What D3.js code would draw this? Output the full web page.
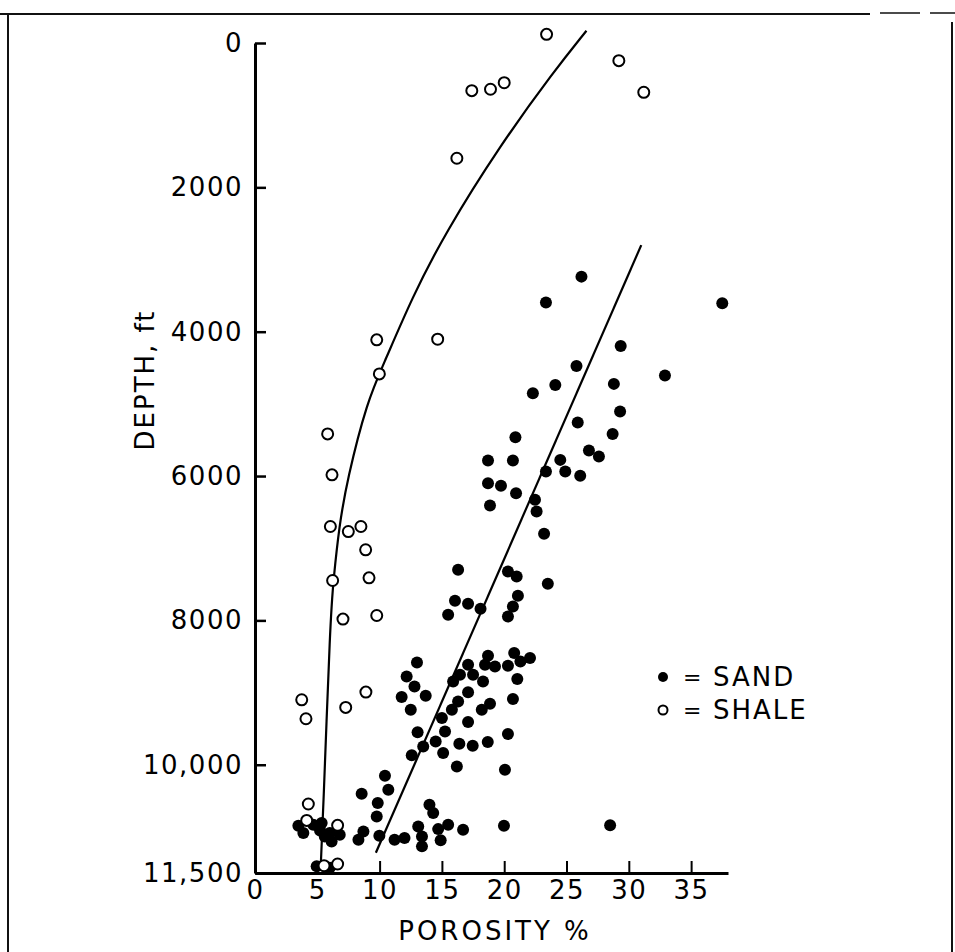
<!DOCTYPE html>
<html lang="en">
<head>
  <meta charset="UTF-8">
  <script src="https://d3js.org/d3.v7.min.js"></script>
  <title>Porosity vs depth</title>
</head>
<body style="margin:0;background:#fff;">
  <div id="chart"></div>
  <script>
    // axis ticks
    const depthTicks = [0, 2000, 4000, 6000, 8000, 10000, 11500];
    const porosityTicks = [0, 5, 10, 15, 20, 25, 30, 35];

    // [porosity %, depth ft]
    const sand = [
      [26.2, 3237], [23.35, 3597], [37.5, 3605], [29.35, 4197], [25.8, 4474],
      [32.9, 4608], [24.1, 4737], [22.3, 4852], [28.8, 4723], [29.3, 5106],
      [25.9, 5258], [28.7, 5416], [20.9, 5461], [18.7, 5785], [20.7, 5785],
      [24.5, 5776], [24.9, 5937], [23.35, 5937], [26.8, 5647], [27.6, 5730],
      [26.1, 5997], [18.7, 6099], [19.74, 6136], [20.95, 6237], [18.86, 6408],
      [22.47, 6330], [22.6, 6491], [23.2, 6801], [16.3, 7299], [20.3, 7322],
      [21.0, 7392], [23.5, 7493], [16.05, 7729], [17.1, 7770], [18.1, 7839],
      [15.5, 7922], [21.1, 7659], [20.7, 7807], [20.3, 7946],
      [18.7, 8490], [19.26, 8638], [18.46, 8615], [20.8, 8453], [20.3, 8628],
      [21.3, 8569], [22.07, 8522], [21.05, 8813], [17.1, 8615], [17.5, 8753],
      [18.3, 8846], [16.45, 8753], [15.9, 8846], [20.7, 9090], [17.1, 8997],
      [16.3, 9123], [18.86, 9155], [18.2, 9238], [15.8, 9238], [15.0, 9353],
      [17.1, 9409], [15.25, 9538], [14.5, 9677], [16.4, 9709], [17.47, 9737],
      [18.68, 9686], [20.3, 9575], [15.1, 9838], [16.2, 10023], [20.06, 10069],
      [14.7, 10892], [15.5, 10831], [14.9, 11047], [16.7, 10900], [19.98, 10845],
      [28.5, 10840],
      [13.0, 8583], [12.17, 8777], [12.8, 8915], [11.77, 9063], [13.7, 9044],
      [12.5, 9238], [13.05, 9551], [13.5, 9747], [12.58, 9870],
      [3.48, 10845], [3.88, 10946], [4.68, 10831], [5.22, 10910], [5.6, 10993],
      [6.0, 10946], [6.15, 11062], [6.8, 10970], [5.35, 10808], [4.95, 11408],
      [6.0, 11427], [8.3, 11039], [8.7, 10924], [8.56, 10402], [9.85, 10530],
      [9.77, 10716], [9.98, 10983], [10.43, 10152], [10.7, 10346], [11.2, 11039],
      [12.0, 11015], [13.1, 10855], [13.4, 10993], [13.4, 11131], [14.0, 10554],
      [14.3, 10670]
    ];

    const shale = [
      [23.4, -120], [29.2, 245], [31.2, 683], [17.4, 660], [18.9, 641],
      [20.0, 550], [16.2, 1597], [9.77, 4113], [14.66, 4104], [9.98, 4585],
      [5.83, 5416], [6.18, 5983], [6.05, 6699], [7.49, 6769], [8.5, 6699],
      [8.88, 7022], [6.23, 7447], [9.15, 7410], [7.06, 7982], [9.77, 7932],
      [3.75, 9100], [4.09, 9363], [7.28, 9206], [8.9, 8993], [4.28, 10544],
      [4.15, 10771], [6.63, 10840], [5.54, 11399], [6.63, 11375]
    ];

    // hand drawn trend lines
    const shaleTrend = [
      [26.6, -170], [24.0, 390], [19.7, 1410], [15.2, 2650], [12.6, 3530],
      [10.4, 4420], [9.0, 4960], [7.4, 6050], [6.75, 6700], [6.3, 7440],
      [6.05, 7950], [5.45, 10760], [5.27, 11420]
    ];
    const sandTrend = [[31.0, 2800], [9.7, 11220]];

    const width = 955, height = 952;
    const font = "'DejaVu Sans', sans-serif";

    const x = d3.scaleLinear().domain([0, 37.96]).range([255, 728]);
    const y = d3.scaleLinear().domain([0, 11500]).range([43, 873]);

    const svg = d3.select("#chart")
        .append("svg")
        .attr("width", width)
        .attr("height", height)
        .style("font-family", font);

    svg.append("rect")
        .attr("width", width)
        .attr("height", height)
        .attr("fill", "#fff");

    // scanned page frame
    const frame = svg.append("g").attr("stroke", "#111").attr("fill", "none");
    frame.append("path").attr("d", "M0,14H870").attr("stroke-width", 2);
    frame.append("path").attr("d", "M880,13H920M930,13H955").attr("stroke-width", 1.5);
    frame.append("path").attr("d", "M8,14V952").attr("stroke-width", 2);
    frame.append("path").attr("d", "M952,22V952").attr("stroke-width", 2);

    // y axis
    const yAxis = d3.axisLeft(y)
        .tickValues(depthTicks)
        .tickSizeInner(-11)
        .tickSizeOuter(0)
        .tickPadding(12)
        .tickFormat(d => d >= 10000 ? d3.format(",")(d) : d);

    svg.append("g")
        .attr("transform", `translate(${x(0)},0)`)
        .call(yAxis)
        .call(g => g.select(".domain").attr("stroke", "#000").attr("stroke-width", 3))
        .call(g => g.selectAll(".tick line").attr("stroke", "#000").attr("stroke-width", 2.5))
        .call(g => g.selectAll(".tick text")
            .attr("fill", "#000")
            .attr("font-size", 26)
            .attr("font-family", font)
            .attr("letter-spacing", 1.5));

    // x axis
    const xAxis = d3.axisBottom(x)
        .tickValues(porosityTicks)
        .tickSizeInner(-12)
        .tickSizeOuter(0)
        .tickPadding(8);

    svg.append("g")
        .attr("transform", `translate(0,${y(11500)})`)
        .call(xAxis)
        .call(g => g.select(".domain").attr("stroke", "#000").attr("stroke-width", 3))
        .call(g => g.selectAll(".tick line").attr("stroke", "#000").attr("stroke-width", 2))
        .call(g => g.selectAll(".tick text")
            .attr("fill", "#000")
            .attr("font-size", 26)
            .attr("font-family", font)
            .attr("letter-spacing", 1.5));

    // axis titles
    svg.append("text")
        .attr("transform", "translate(154,380) rotate(-90)")
        .attr("text-anchor", "middle")
        .attr("font-size", 26)
        .attr("letter-spacing", 2)
        .text("DEPTH, ft");

    svg.append("text")
        .attr("x", 495)
        .attr("y", 940)
        .attr("text-anchor", "middle")
        .attr("font-size", 26)
        .attr("letter-spacing", 3)
        .text("POROSITY %");

    // trend lines
    const line = d3.line()
        .x(d => x(d[0]))
        .y(d => y(d[1]));

    svg.append("path")
        .datum(shaleTrend)
        .attr("d", line.curve(d3.curveBasis))
        .attr("fill", "none")
        .attr("stroke", "#000")
        .attr("stroke-width", 2.2);

    svg.append("path")
        .datum(sandTrend)
        .attr("d", line.curve(d3.curveLinear))
        .attr("fill", "none")
        .attr("stroke", "#000")
        .attr("stroke-width", 2.2);

    // points
    svg.append("g")
        .selectAll("circle")
        .data(sand)
        .join("circle")
        .attr("cx", d => x(d[0]))
        .attr("cy", d => y(d[1]))
        .attr("r", 6)
        .attr("fill", "#000");

    svg.append("g")
        .selectAll("circle")
        .data(shale)
        .join("circle")
        .attr("cx", d => x(d[0]))
        .attr("cy", d => y(d[1]))
        .attr("r", 5.5)
        .attr("fill", "#fff")
        .attr("stroke", "#000")
        .attr("stroke-width", 2);

    // legend
    const legend = svg.append("g").attr("transform", "translate(663,677)");
    legend.append("circle").attr("r", 5).attr("fill", "#000");
    legend.append("circle").attr("cy", 33).attr("r", 4.5)
        .attr("fill", "#fff").attr("stroke", "#000").attr("stroke-width", 2);
    ["SAND", "SHALE"].forEach((label, i) => {
      legend.append("text")
          .attr("x", 20)
          .attr("y", i * 33)
          .attr("dy", "0.35em")
          .attr("font-size", 22)
          .text("=");
      legend.append("text")
          .attr("x", 50)
          .attr("y", i * 33)
          .attr("dy", "0.36em")
          .attr("font-size", 26)
          .attr("letter-spacing", 2)
          .text(label);
    });
  </script>
</body>
</html>
